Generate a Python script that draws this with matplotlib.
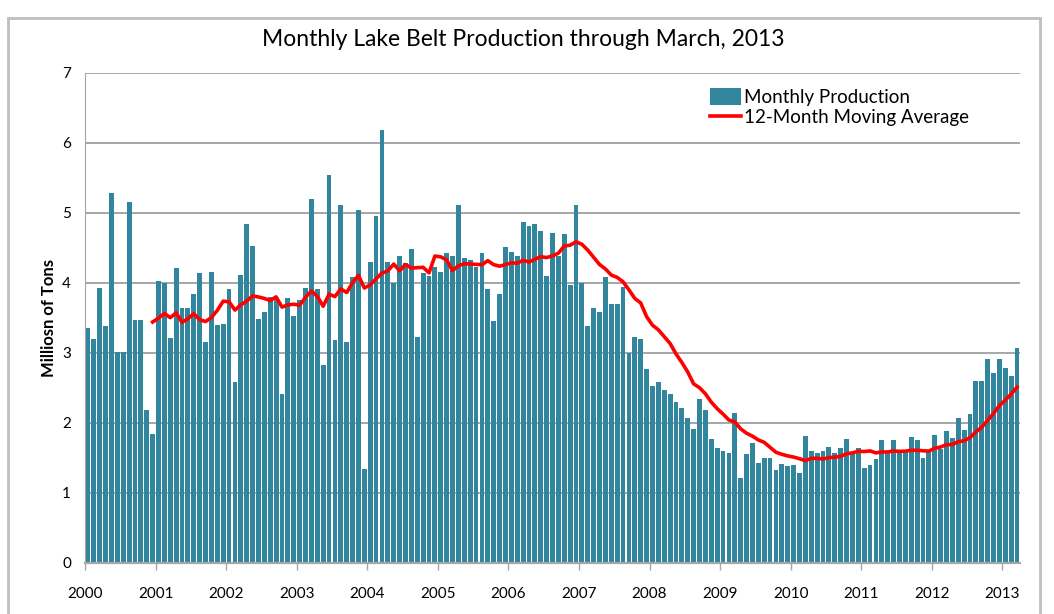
import numpy as np
import pandas as pd
import matplotlib
matplotlib.use('Agg')
from matplotlib import pyplot as plt
from matplotlib.patches import Rectangle

# monthly production, Jan 2000 .. Mar 2013 (millions of tons)
prod_2000 = [3.36, 3.20, 3.93, 3.38, 5.28, 3.02, 3.02, 5.16, 3.47, 3.47, 2.18, 1.84]
prod_2001 = [4.03, 4.00, 3.21, 4.21, 3.65, 3.65, 3.85, 4.15, 3.16, 4.16, 3.40, 3.42]
prod_2002 = [3.92, 2.58, 4.11, 4.85, 4.53, 3.48, 3.59, 3.80, 3.78, 2.41, 3.78, 3.53]
prod_2003 = [3.76, 3.93, 5.20, 3.92, 2.83, 5.55, 3.19, 5.11, 3.16, 4.09, 5.05, 1.35]
prod_2004 = [4.30, 4.96, 6.19, 4.30, 4.00, 4.39, 4.28, 4.49, 3.23, 4.15, 4.10, 4.23]
prod_2005 = [4.16, 4.43, 4.38, 5.11, 4.36, 4.33, 4.23, 4.43, 3.92, 3.46, 3.84, 4.52]
prod_2006 = [4.44, 4.38, 4.87, 4.82, 4.84, 4.75, 4.10, 4.71, 4.38, 4.70, 3.97, 5.11]
prod_2007 = [4.00, 3.38, 3.64, 3.59, 4.08, 3.70, 3.70, 3.95, 3.00, 3.23, 3.20, 2.77]
prod_2008 = [2.53, 2.59, 2.47, 2.41, 2.30, 2.22, 2.07, 1.92, 2.34, 2.19, 1.77, 1.65]
prod_2009 = [1.60, 1.57, 2.15, 1.21, 1.56, 1.71, 1.43, 1.50, 1.50, 1.33, 1.42, 1.38]
prod_2010 = [1.40, 1.29, 1.82, 1.60, 1.57, 1.60, 1.66, 1.57, 1.64, 1.77, 1.58, 1.65]
prod_2011 = [1.36, 1.40, 1.48, 1.76, 1.57, 1.76, 1.60, 1.60, 1.80, 1.76, 1.50, 1.60]
prod_2012 = [1.83, 1.63, 1.88, 1.78, 2.07, 1.90, 2.13, 2.60, 2.60, 2.92, 2.71, 2.92]
prod_2013 = [2.78, 2.67, 3.07]

years = ['2000', '2001', '2002', '2003', '2004', '2005', '2006',
         '2007', '2008', '2009', '2010', '2011', '2012', '2013']

monthly = (prod_2000 + prod_2001 + prod_2002 + prod_2003 + prod_2004 + prod_2005 + prod_2006
           + prod_2007 + prod_2008 + prod_2009 + prod_2010 + prod_2011 + prod_2012 + prod_2013)

df = pd.DataFrame({'value': monthly})
df['ma12'] = df['value'].rolling(window=12).mean()

bar_color = '#31859c'
grid_color = '#a6a6a6'

plt.rcParams['font.family'] = ['Lato', 'DejaVu Sans']

fig = plt.figure(figsize=(10.54, 6.14), dpi=100)
ax = fig.add_axes([85 / 1054, 51 / 614, 935 / 1054, 490 / 614])

x = np.arange(len(monthly)) + 0.5
bars = ax.bar(x, df['value'], width=0.82, color=bar_color, label='Monthly Production', zorder=2)
line, = ax.plot(x, df['ma12'], color='#ff0000', lw=2.6, label='12-Month Moving Average', zorder=3)

ax.set_xlim(0, len(monthly))
ax.set_ylim(0, 7)
ax.set_yticks(range(0, 8))
ax.set_xticks(np.arange(len(years)) * 12)
ax.set_xticklabels(years)
ax.tick_params(axis='x', length=5, width=1, color=grid_color, labelsize=11, pad=12)
ax.tick_params(axis='y', length=0, labelsize=11, pad=10)

ax.grid(axis='y', color=grid_color, lw=1.4, zorder=0)
ax.set_axisbelow(True)
for side in ['top', 'right']:
    ax.spines[side].set_visible(False)
ax.spines['left'].set_color(grid_color)
ax.spines['bottom'].set_color(grid_color)
ax.spines['bottom'].set_linewidth(1.6)

ax.set_ylabel('Milliosn of Tons', fontsize=12, fontweight='bold', labelpad=4)
fig.text(523 / 1054, 1 - 40 / 614, 'Monthly Lake Belt Production through March, 2013',
         ha='center', va='center', fontsize=16.5)

leg = ax.legend([bars, line], ['Monthly Production', '12-Month Moving Average'],
                loc='upper left', bbox_to_anchor=(0.66, 0.985), frameon=False,
                fontsize=13.5, handlelength=1.7, handleheight=1.0, handletextpad=0.15,
                labelspacing=0.15, borderaxespad=0)

# outer slide frame
fig.patches.append(Rectangle((8 / 1054, -0.05), 1032 / 1054, 1.05 - 18 / 614,
                             transform=fig.transFigure, fill=False,
                             edgecolor='#bfbfbf', lw=2))

fig.savefig('out.png', dpi=100)
